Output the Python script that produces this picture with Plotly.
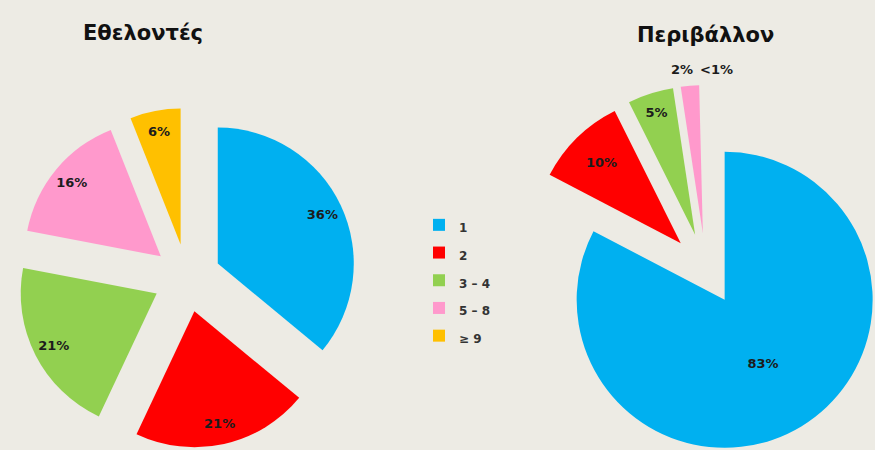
import math
import plotly.graph_objects as go

# ---------------- data ----------------
categories = ["1", "2", "3 – 4", "5 – 8", "≥ 9"]
slice_colors = ["#00B0F0", "#FF0000", "#92D050", "#FF99CC", "#FFC000"]

vol_title = "Εθελοντές"
vol_values = [36, 21, 21, 16, 6]
vol_text = ["36%", "21%", "21%", "16%", "6%"]

env_title = "Περιβάλλον"
env_values = [83, 10, 5, 2, 0.4]
env_text = ["83%", "10%", "5%", "2%", "<1%"]

# ---------------- layout constants ----------------
W, H = 875, 450
BG = "#EDEBE4"
LABEL_FONT = dict(family="DejaVu Sans", size=13, color="#1c1c1c", weight="bold")
TITLE_FONT = dict(family="DejaVu Sans", size=21, color="#111111", weight="bold")
CLEAR = "rgba(0,0,0,0)"


def dom(cx, cy, half):
    x0 = max(0.0, (cx - half) / W)
    x1 = min(1.0, (cx + half) / W)
    y0 = max(0.0, (H - (cy + half)) / H)
    y1 = min(1.0, (H - (cy - half)) / H)
    return dict(x=[x0, x1], y=[y0, y1])


legend_labels = [f'<span style="font-size:12px">{c}</span>' for c in categories]

common = dict(sort=False, direction="clockwise", rotation=0,
              hoverinfo="skip", marker_line_width=0)

fig = go.Figure()

# ---- pie 1 : exploded pie ----
c1x, c1y, r1, pull1 = 187, 278, 136, 0.25
d1 = dom(c1x, c1y, r1 * (1 + pull1))
fig.add_trace(go.Pie(labels=legend_labels, values=vol_values,
                     marker_colors=slice_colors, pull=pull1, textinfo="none",
                     domain=d1, showlegend=True, **common))
# text layer (same geometry, labels pushed outward by a hole)
fig.add_trace(go.Pie(labels=legend_labels, values=vol_values,
                     marker_colors=[CLEAR] * 5, pull=pull1, hole=0.7,
                     text=vol_text, textinfo="text", textposition="inside",
                     insidetextorientation="horizontal", textfont=LABEL_FONT,
                     domain=d1, showlegend=False, **common))

# ---- pie 2 : exploded pie, each slice drawn at its pulled position ----
c2x, c2y, r2, shift2 = 706, 269, 148, 36
# small slices get their outside labels from a separate text-only layer
label_anchor = {3: (705.5, 176.6), 4: (738.0, 177.0)}
total2 = sum(env_values)
cum = 0.0
for i, v in enumerate(env_values):
    mid = 2 * math.pi * (cum + v / 2) / total2
    cum += v
    cx = c2x + shift2 * math.sin(mid)
    cy = c2y - shift2 * math.cos(mid)
    inside = i < 3
    colors = [slice_colors[j] if (j == i and i < 4) else CLEAR for j in range(5)]
    texts = [env_text[j] if (j == i and inside) else "" for j in range(5)]
    fig.add_trace(go.Pie(labels=legend_labels, values=env_values,
                         marker_colors=colors, text=texts, textinfo="text",
                         textposition="inside", insidetextorientation="horizontal",
                         textfont=LABEL_FONT,
                         domain=dom(cx, cy, r2), showlegend=False, **common))
    if not inside:
        lx, ly = label_anchor[i]
        fig.add_trace(go.Pie(labels=legend_labels, values=env_values,
                             marker_colors=[CLEAR] * 5,
                             text=[env_text[j] if j == i else "" for j in range(5)],
                             textinfo="text", textposition="outside",
                             outsidetextfont=LABEL_FONT,
                             domain=dom(lx, ly, 100), showlegend=False, **common))

fig.update_layout(
    width=W, height=H,
    margin=dict(l=0, r=0, t=0, b=0),
    paper_bgcolor=BG, plot_bgcolor=BG,
    legend=dict(x=419 / W, y=(H - 206) / H, xanchor="left", yanchor="top",
                font=dict(family="DejaVu Sans", size=19, color="#333333", weight="bold"),
                bgcolor="rgba(0,0,0,0)"),
    annotations=[
        dict(text=vol_title, x=143 / W, y=(H - 33) / H, xref="paper", yref="paper",
             xanchor="center", yanchor="middle", showarrow=False, font=TITLE_FONT),
        dict(text=env_title, x=705 / W, y=(H - 35) / H, xref="paper", yref="paper",
             xanchor="center", yanchor="middle", showarrow=False, font=TITLE_FONT),
    ],
)

fig.write_html("out.html",
               config={"displayModeBar": False},
               post_script="document.body.style.margin='0px';"
                           "document.body.style.overflow='hidden';")
